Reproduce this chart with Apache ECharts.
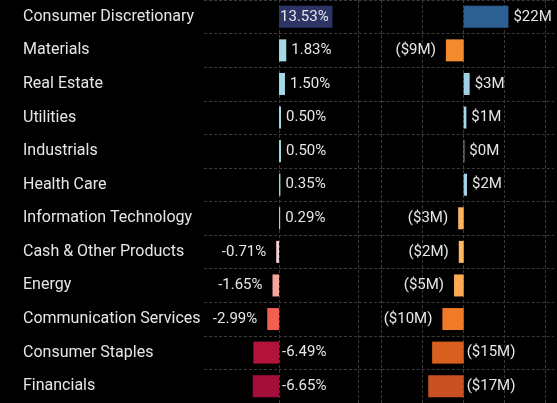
<!DOCTYPE html>
<html>
<head>
<meta charset="utf-8">
<script src="https://cdn.jsdelivr.net/npm/echarts@6/dist/echarts.min.js"></script>
<style>
  html, body { margin: 0; padding: 0; background: #000; }
  #chart { width: 557px; height: 403px; }
</style>
</head>
<body>
<div id="chart"></div>
<script>
// Sector rows, top to bottom
const categories = [
  'Consumer Discretionary', 'Materials', 'Real Estate', 'Utilities',
  'Industrials', 'Health Care', 'Information Technology', 'Cash & Other Products',
  'Energy', 'Communication Services', 'Consumer Staples', 'Financials'
];

// Weight change per sector, in percent
const weightChange = [13.53, 1.83, 1.50, 0.50, 0.50, 0.35, 0.29, -0.71, -1.65, -2.99, -6.49, -6.65];

// Net flows per sector, in millions of dollars
const netFlows = [21.8, -8.7, 2.9, 1.3, 0.3, 1.6, -2.7, -2.4, -4.7, -10.4, -15.4, -17.3];

// Bar colours for each row
const weightColors = ['#2c3566', '#a3dae7', '#a3dae7', '#a3dae7', '#a3dae7', '#a3dae7', '#a3dae7',
  '#f2d4d4', '#f5a39b', '#f35f4f', '#b3133b', '#a50d3a'];
const flowColors = ['#2e5f93', '#f28a2e', '#a0d0e8', '#a9d5ea', '#d8e2e6', '#a4d0e8',
  '#fdb35e', '#fdb862', '#fdab52', '#f07b27', '#d95f20', '#c85224'];

const FONT = 'Roboto';
const TEXT = '#e6e6e6';
const GRID_LINE = { color: '#3a3a3a', type: [3, 2], width: 1 };

// Large bars keep their label near the zero line so it does not run into the sector names
function placeLabel(v, posLimit, negLimit) {
  if (v > posLimit) return { position: 'insideLeft', distance: 1 };
  if (v < negLimit) return { position: 'right', distance: 3 };
  if (v >= 0) return { position: 'right', distance: 5 };
  return { position: 'left', distance: 10 };
}

const fmtPct = v => v.toFixed(2) + '%';
const fmtUsd = v => v < 0 ? '($' + Math.round(-v) + 'M)' : '$' + Math.round(v) + 'M';

const valueAxisBase = {
  type: 'value',
  axisLine: { show: false },
  axisTick: { show: false },
  axisLabel: { show: false },
  splitLine: { show: true, lineStyle: GRID_LINE, showMinLine: false, showMaxLine: false }
};

const catAxisBase = {
  type: 'category',
  data: categories,
  inverse: true,
  axisLine: { show: false },
  axisTick: { show: false },
  splitLine: { show: true, lineStyle: GRID_LINE }
};

const barLabel = {
  show: true, color: TEXT, fontSize: 15, fontFamily: FONT, padding: [3, 0, 0, 0]
};

const chart = echarts.init(document.getElementById('chart'), null, { renderer: 'canvas' });

chart.setOption({
  backgroundColor: '#000000',
  animation: false,
  grid: [
    { left: 204, top: 0, width: 177.7, height: 406, containLabel: false },
    { left: 381.7, top: 0, width: 172.2, height: 406, containLabel: false }
  ],
  xAxis: [
    Object.assign({}, valueAxisBase, { gridIndex: 0, min: -19, max: 26, splitNumber: 2 }),
    Object.assign({}, valueAxisBase, {
      gridIndex: 1, min: -40, max: 44, interval: 20,
      splitLine: { show: true, lineStyle: GRID_LINE, showMinLine: true, showMaxLine: false }
    })
  ],
  yAxis: [
    Object.assign({}, catAxisBase, {
      gridIndex: 0,
      axisLabel: {
        show: true, align: 'left', margin: 181, color: TEXT,
        fontSize: 16, fontFamily: FONT, padding: [4, 0, 0, 0]
      }
    }),
    Object.assign({}, catAxisBase, { gridIndex: 1, axisLabel: { show: false } })
  ],
  series: [
    {
      type: 'bar',
      xAxisIndex: 0,
      yAxisIndex: 0,
      barWidth: 22,
      label: Object.assign({}, barLabel, { formatter: p => fmtPct(p.value) }),
      data: weightChange.map((v, i) => ({
        value: v,
        itemStyle: { color: weightColors[i] },
        label: placeLabel(v, 10, -5)
      }))
    },
    {
      type: 'bar',
      xAxisIndex: 1,
      yAxisIndex: 1,
      barWidth: 22,
      label: Object.assign({}, barLabel, { formatter: p => fmtUsd(p.value) }),
      data: netFlows.map((v, i) => ({
        value: v,
        itemStyle: { color: flowColors[i] },
        label: placeLabel(v, 30, -12)
      }))
    }
  ]
});
</script>
</body>
</html>
